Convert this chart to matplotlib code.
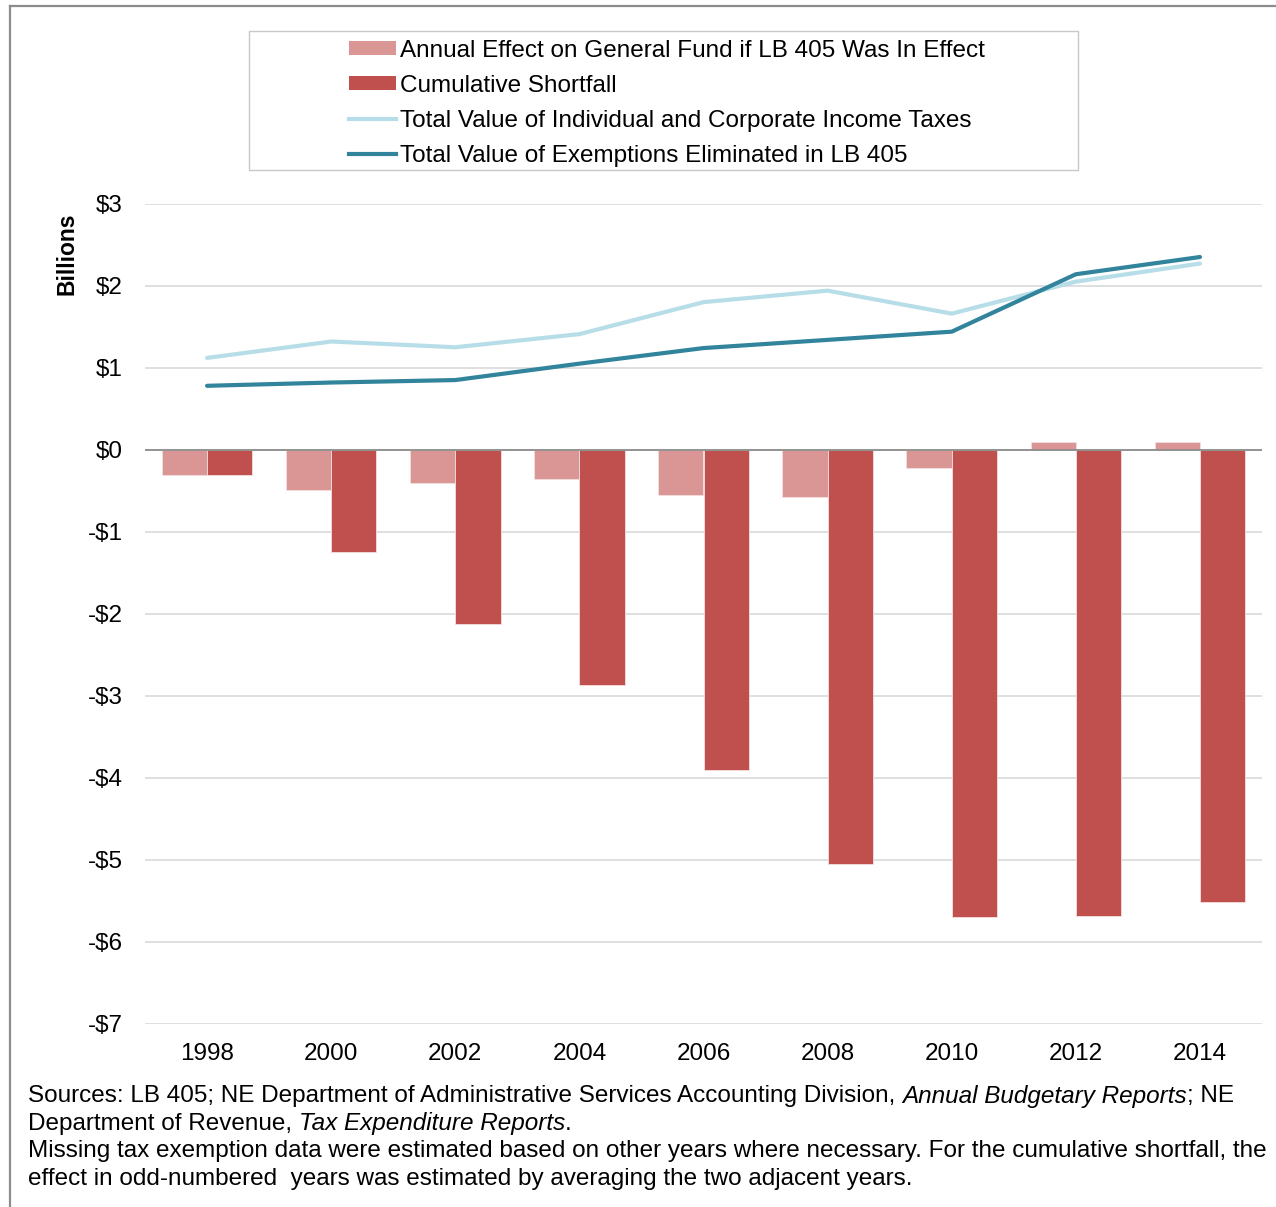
import matplotlib
matplotlib.use("Agg")
import matplotlib.pyplot as plt
from matplotlib.patches import Rectangle, Patch
from matplotlib.lines import Line2D
from matplotlib.ticker import FuncFormatter
import numpy as np

plt.rcParams['font.family'] = ['Liberation Sans', 'DejaVu Sans']

# ---- data (billions of dollars) ----
years = ['1998', '2000', '2002', '2004', '2006', '2008', '2010', '2012', '2014']
annual_effect = [-0.31, -0.49, -0.40, -0.36, -0.55, -0.57, -0.22, 0.09, 0.09]
cumulative_shortfall = [-0.31, -1.24, -2.12, -2.87, -3.90, -5.05, -5.69, -5.68, -5.51]
income_taxes_total = [1.12, 1.32, 1.25, 1.41, 1.80, 1.94, 1.66, 2.05, 2.27]
exemptions_total = [0.78, 0.82, 0.85, 1.05, 1.24, 1.34, 1.44, 2.14, 2.35]

legend_labels = [
    'Annual Effect on General Fund if LB 405 Was In Effect',
    'Cumulative Shortfall',
    'Total Value of Individual and Corporate Income Taxes',
    'Total Value of Exemptions Eliminated in LB 405',
]

C_ANNUAL = '#DA9694'
C_CUMUL = '#C0504D'
C_INCOME = '#B7DEE8'
C_EXEMPT = '#31849B'

W, H = 1276, 1207
fig = plt.figure(figsize=(W / 100, H / 100), dpi=100)


def fx(px):
    return px / W


def fy(py):
    return 1 - py / H


ax = fig.add_axes([fx(145), fy(1024), fx(1262) - fx(145), fy(203.7) - fy(1024)])

x = np.arange(len(years))
bw = 0.365
ax.bar(x - bw / 2, annual_effect, bw, color=C_ANNUAL, edgecolor='#f4e0df', linewidth=0.6, zorder=2)
ax.bar(x + bw / 2, cumulative_shortfall, bw, color=C_CUMUL, edgecolor='#f4e0df', linewidth=0.6, zorder=2)
ax.plot(x, income_taxes_total, color=C_INCOME, lw=3.0, solid_capstyle='round', zorder=4)
ax.plot(x, exemptions_total, color=C_EXEMPT, lw=3.0, solid_capstyle='round', zorder=5)

ax.set_xlim(-0.5, len(years) - 0.5)
ax.set_ylim(-7, 3)
ax.set_yticks(np.arange(-7, 4, 1))
ax.yaxis.set_major_formatter(FuncFormatter(lambda v, p: f"${v:.0f}" if v >= 0 else f"-${-v:.0f}"))
ax.set_xticks(x)
ax.set_xticklabels(years)
ax.tick_params(axis='both', length=0, labelsize=17.5)
ax.tick_params(axis='y', pad=16)
ax.tick_params(axis='x', pad=14)
for s in ax.spines.values():
    s.set_visible(False)
ax.grid(axis='y', color='#d9d9d9', lw=1.2, zorder=0)
ax.set_axisbelow(True)
ax.axhline(0, color='#8c8c8c', lw=1.3, zorder=3)

fig.text(fx(67), fy(254), 'Billions', rotation=90, ha='center', va='center',
         fontsize=16.5, fontweight='bold')

# legend with a wide outer frame
handles = [
    Patch(facecolor=C_ANNUAL, edgecolor='none'),
    Patch(facecolor=C_CUMUL, edgecolor='none'),
    Line2D([0], [0], color=C_INCOME, lw=3.0),
    Line2D([0], [0], color=C_EXEMPT, lw=3.0),
]
fig.patches.append(Rectangle((fx(249), fy(170)), fx(1078) - fx(249), fy(31) - fy(170),
                             transform=fig.transFigure, facecolor='white',
                             edgecolor='#c8c8c8', lw=1.0, zorder=0))
fig.legend(handles, legend_labels, loc='upper left', bbox_to_anchor=(fx(349), fy(40)),
           frameon=False, fontsize=17.5, handlelength=1.93, handleheight=0.5,
           handletextpad=0.16, labelspacing=0.53, borderpad=0, borderaxespad=0)

# footnote with italic report titles
lines = [
    [("Sources: LB 405; NE Department of Administrative Services Accounting Division, ", 'normal'),
     ("Annual Budgetary Reports", 'italic'), ("; NE", 'normal')],
    [("Department of Revenue, ", 'normal'), ("Tax Expenditure Reports", 'italic'), (".", 'normal')],
    [("Missing tax exemption data were estimated based on other years where necessary. "
      "For the cumulative shortfall, the", 'normal')],
    [("effect in odd-numbered  years was estimated by averaging the two adjacent years.", 'normal')],
]
renderer = fig.canvas.get_renderer()
y0 = 1096
for i, segs in enumerate(lines):
    xp = 28
    for txt, style in segs:
        t = fig.text(fx(xp), fy(y0 + i * 27.7), txt, fontsize=17.5, style=style,
                     ha='left', va='center')
        bb = t.get_window_extent(renderer=renderer)
        xp += bb.width

# outer frame edges
fig.add_artist(Line2D([fx(10), fx(10)], [fy(6), 0], transform=fig.transFigure,
                      color='#8c8c8c', lw=1.6))
fig.add_artist(Line2D([fx(10), 1], [fy(6), fy(6)], transform=fig.transFigure,
                      color='#8c8c8c', lw=1.6))

fig.savefig('out.png', dpi=100)
